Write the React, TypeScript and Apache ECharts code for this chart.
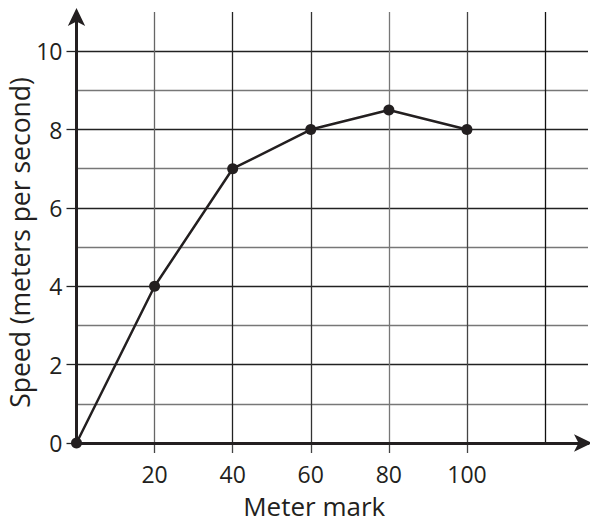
import React, { useEffect, useRef } from "react";
import * as echarts from "echarts";

const meterMarks = [0, 20, 40, 60, 80, 100];
const speeds = [0, 4, 7, 8, 8.5, 8];
const xLabelValues = [20, 40, 60, 80, 100];
const yLabelValues = [0, 2, 4, 6, 8, 10];

const INK = "#231f20";
const FONT = "'Open Sans', sans-serif";
const X_MAX = 131;
const Y_MAX = 11;

export default function App() {
  const ref = useRef<HTMLDivElement>(null);
  useEffect(() => {
    if (!ref.current) return;
    const chart = echarts.init(ref.current, null, { renderer: "svg" });
    const arrowLine = {
      show: true,
      symbol: ["none", "arrow"],
      symbolSize: [13, 18],
      symbolOffset: [0, 4],
      lineStyle: { color: INK, width: 3 },
    };
    chart.setOption({
      animation: false,
      backgroundColor: "#ffffff",
      grid: {
        left: 76.5,
        right: 2,
        top: 12,
        bottom: 77,
        containLabel: false,
        outerBoundsMode: "none",
      },
      xAxis: [
        {
          type: "value",
          min: 0,
          max: X_MAX,
          interval: 20,
          position: "bottom",
          name: "Meter mark",
          nameLocation: "middle",
          nameGap: 50,
          nameMoveOverlap: false,
          nameTextStyle: {
            fontFamily: FONT,
            fontSize: 26,
            lineHeight: 26,
            color: INK,
            padding: [0, 36, 0, 0],
          },
          axisLine: arrowLine,
          axisTick: { show: false },
          axisLabel: {
            customValues: xLabelValues,
            margin: 19,
            fontFamily: FONT,
            fontSize: 23,
            color: INK,
          },
          splitLine: {
            show: true,
            lineStyle: {
              width: 1.3,
              color: ["#000", "#666", "#222", "#333", "#777", "#444", "#111", "transparent"],
            },
          },
          z: 3,
        },
        {
          type: "value",
          min: 0,
          max: X_MAX,
          position: "bottom",
          axisLine: { show: false },
          axisTick: {
            show: true,
            length: 10,
            customValues: xLabelValues,
            lineStyle: { color: "#444", width: 1.3 },
          },
          axisLabel: { show: false },
          splitLine: { show: false },
        },
      ],
      yAxis: [
        {
          type: "value",
          min: 0,
          max: Y_MAX,
          interval: 1,
          position: "left",
          name: "Speed (meters per second)",
          nameLocation: "middle",
          nameGap: 43,
          nameMoveOverlap: false,
          nameTextStyle: {
            fontFamily: FONT,
            fontSize: 26.5,
            lineHeight: 27,
            color: INK,
            padding: [0, 30, 0, 0],
          },
          axisLine: arrowLine,
          axisTick: { show: false },
          axisLabel: {
            customValues: yLabelValues,
            margin: 14,
            fontFamily: FONT,
            fontSize: 23,
            color: INK,
          },
          splitLine: {
            show: true,
            lineStyle: {
              width: 1.3,
              color: ["#000", "#777", "#222", "#777", "#222", "#777", "#222", "#777", "#222", "#777", "#222", "transparent"],
            },
          },
          z: 3,
        },
        {
          type: "value",
          min: 0,
          max: Y_MAX,
          position: "left",
          axisLine: { show: false },
          axisTick: {
            show: true,
            length: 10,
            customValues: yLabelValues,
            lineStyle: { color: "#222", width: 1.3 },
          },
          axisLabel: { show: false },
          splitLine: { show: false },
        },
      ],
      series: [
        {
          type: "line",
          xAxisIndex: 0,
          yAxisIndex: 0,
          data: meterMarks.map((m, i) => [m, speeds[i]]),
          symbol: "circle",
          symbolSize: 11,
          lineStyle: { color: INK, width: 2.5 },
          itemStyle: { color: INK },
          z: 5,
        },
      ],
    });
    return () => chart.dispose();
  }, []);
  return (
    <div
      ref={ref}
      style={{ position: "fixed", left: 0, top: 0, width: 590, height: 520 }}
    />
  );
}
